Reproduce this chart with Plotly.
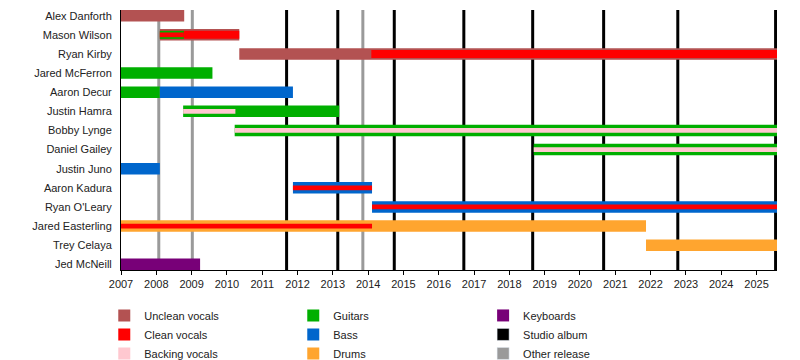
import plotly.graph_objects as go

# ---------------- data ----------------
members = ["Alex Danforth", "Mason Wilson", "Ryan Kirby", "Jared McFerron", "Aaron Decur",
           "Justin Hamra", "Bobby Lynge", "Daniel Gailey", "Justin Juno", "Aaron Kadura",
           "Ryan O'Leary", "Jared Easterling", "Trey Celaya", "Jed McNeill"]

END = 2025.58

# main roles (full-width bars): member, start, end
unclean_names = ["Alex Danforth", "Mason Wilson", "Ryan Kirby"]
unclean_start = [2007.0, 2008.10, 2010.35]
unclean_end = [2008.79, 2010.35, END]

guitar_names = ["Jared McFerron", "Aaron Decur", "Justin Hamra", "Bobby Lynge", "Daniel Gailey"]
guitar_start = [2007.0, 2007.0, 2008.76, 2010.22, 2018.69]
guitar_end = [2009.59, 2008.10, 2013.18, END, END]

bass_names = ["Aaron Decur", "Justin Juno", "Aaron Kadura", "Ryan O'Leary"]
bass_start = [2008.10, 2007.0, 2011.87, 2014.11]
bass_end = [2011.87, 2008.10, 2014.11, END]

drum_names = ["Jared Easterling", "Trey Celaya"]
drum_start = [2007.0, 2021.87]
drum_end = [2021.87, END]

key_names = ["Jed McNeill"]
key_start = [2007.0]
key_end = [2009.24]

# secondary roles (overlays)
clean_mid_names = ["Mason Wilson", "Ryan Kirby"]
clean_mid_start = [2008.10, 2014.09]
clean_mid_end = [2010.35, END]

guitar_mid_names = ["Mason Wilson"]
guitar_mid_start = [2008.10]
guitar_mid_end = [2008.78]

clean_thin_names = ["Mason Wilson", "Aaron Kadura", "Ryan O'Leary", "Jared Easterling"]
clean_thin_start = [2008.10, 2011.87, 2014.11, 2007.0]
clean_thin_end = [2008.78, 2014.11, END, 2014.11]

backing_names = ["Justin Hamra", "Bobby Lynge", "Daniel Gailey"]
backing_start = [2008.76, 2010.22, 2018.69]
backing_end = [2010.24, END, END]

studio_albums = [2011.69, 2013.14, 2014.74, 2016.71, 2018.66, 2020.67, 2022.77, 2025.54]
other_releases = [2008.07, 2009.02, 2013.85]

years = list(range(2007, 2026))

# ---------------- style ----------------
C_UNCLEAN = "#B35252"
C_CLEAN = "#FF0000"
C_BACKING = "#FFC8D0"
C_GUITAR = "#00AF00"
C_BASS = "#0066CC"
C_DRUMS = "#FFA52F"
C_KEYS = "#780078"
C_STUDIO = "#000000"
C_OTHER = "#9A9A9A"

W_FULL = 0.6
W_MID = 0.42
W_THIN = 0.25

fig = go.Figure()


def add_bars(names, starts, ends, color, width, label, legend, rank, show=True):
    fig.add_trace(go.Bar(
        orientation="h", y=names, base=starts,
        x=[e - s for s, e in zip(starts, ends)],
        width=width, marker=dict(color=color, line=dict(width=0)),
        name=label, legendgroup=label, showlegend=show, legend=legend,
        legendrank=rank, hoverinfo="skip"))


add_bars(unclean_names, unclean_start, unclean_end, C_UNCLEAN, W_FULL, "Unclean vocals", "legend", 1)
add_bars(guitar_names, guitar_start, guitar_end, C_GUITAR, W_FULL, "Guitars", "legend2", 1)
add_bars(bass_names, bass_start, bass_end, C_BASS, W_FULL, "Bass", "legend2", 2)
add_bars(drum_names, drum_start, drum_end, C_DRUMS, W_FULL, "Drums", "legend2", 3)
add_bars(key_names, key_start, key_end, C_KEYS, W_FULL, "Keyboards", "legend3", 1)
add_bars(clean_mid_names, clean_mid_start, clean_mid_end, C_CLEAN, W_MID, "Clean vocals", "legend", 2)
add_bars(guitar_mid_names, guitar_mid_start, guitar_mid_end, C_GUITAR, W_MID, "Guitars", "legend2", 1, show=False)
add_bars(clean_thin_names, clean_thin_start, clean_thin_end, C_CLEAN, W_THIN, "Clean vocals", "legend", 2, show=False)
add_bars(backing_names, backing_start, backing_end, C_BACKING, W_THIN, "Backing vocals", "legend", 3)

# legend-only entries for release lines
fig.add_trace(go.Bar(orientation="h", y=[None], x=[None], name="Studio album",
                     marker=dict(color=C_STUDIO), legend="legend3", legendrank=2))
fig.add_trace(go.Bar(orientation="h", y=[None], x=[None], name="Other release",
                     marker=dict(color=C_OTHER), legend="legend3", legendrank=3))

for d in other_releases:
    fig.add_shape(type="line", xref="x", yref="paper", x0=d, x1=d, y0=0, y1=1,
                  line=dict(color=C_OTHER, width=3), layer="below")
for d in studio_albums:
    fig.add_shape(type="line", xref="x", yref="paper", x0=d, x1=d, y0=0, y1=1,
                  line=dict(color=C_STUDIO, width=3), layer="below")

FONT = "Liberation Sans, Arial, sans-serif"
LEG_Y = -0.119


def leg(x):
    return dict(orientation="v", x=x, y=LEG_Y, xanchor="left", yanchor="top",
                traceorder="normal", font=dict(family=FONT, size=11, color="#222222"),
                bgcolor="rgba(0,0,0,0)", borderwidth=0)


fig.update_layout(
    width=800, height=360,
    margin=dict(l=121, r=23, t=10, b=90, autoexpand=False),
    paper_bgcolor="white", plot_bgcolor="white",
    barmode="overlay",
    font=dict(family=FONT, size=11, color="#222222"),
    showlegend=True,
    legend=leg(-0.0255),
    legend2=leg(0.2626),
    legend3=leg(0.552),
    xaxis=dict(range=[2007, END], tickmode="array", tickvals=years,
               ticktext=[str(y) for y in years], showgrid=False, zeroline=False,
               showline=True, linecolor="black", linewidth=1,
               ticks="outside", ticklen=4, tickcolor="black", tickwidth=1,
               tickfont=dict(family=FONT, size=11, color="#222222")),
    yaxis=dict(type="category", categoryorder="array", categoryarray=members,
               range=[len(members) - 1 + W_FULL / 2, -W_FULL / 2],
               showgrid=False, zeroline=False, showline=True, linecolor="black",
               linewidth=1, ticks="outside", ticklen=6, tickcolor="rgba(0,0,0,0)",
               tickfont=dict(family=FONT, size=11, color="#222222")),
)

fig.write_html("out.html", config={"displayModeBar": False},
               post_script="document.body.style.margin='0';document.body.style.padding='0';")
